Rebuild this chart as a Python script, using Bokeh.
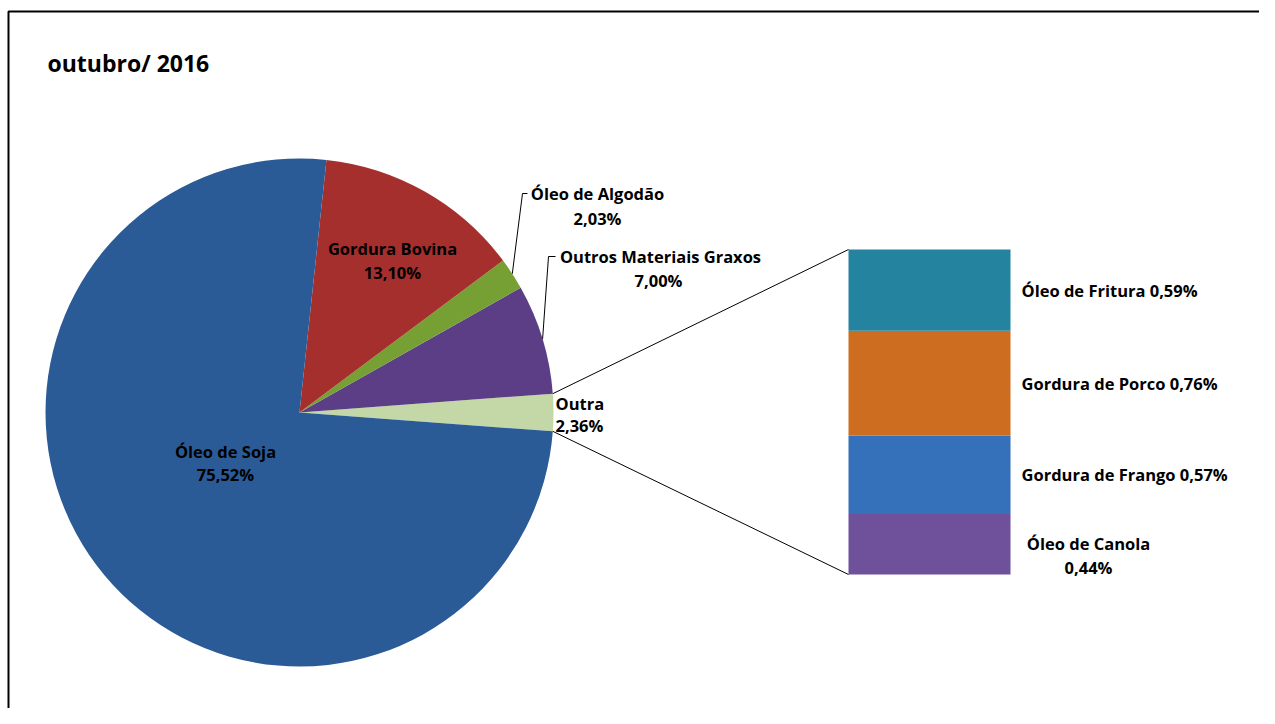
import math
from bokeh.plotting import figure
from bokeh.models import Range1d, ColumnDataSource
from bokeh.core.properties import value
from bokeh.embed import file_html
from bokeh.resources import INLINE

# ---------------- data ----------------
title = "outubro/ 2016"
main_labels = ["Outra", "Outros Materiais Graxos", "Óleo de Algodão", "Gordura Bovina", "Óleo de Soja"]
main_values = [2.36, 7.00, 2.03, 13.10, 75.52]
main_colors = ["#C4D7A6", "#5B3E86", "#76A033", "#A52F2D", "#2B5B97"]

bar_labels = ["Óleo de Canola", "Gordura de Frango", "Gordura de Porco", "Óleo de Fritura"]
bar_values = [0.44, 0.57, 0.76, 0.59]
bar_colors = ["#6E509B", "#3570BB", "#CD6D1F", "#24839E"]

def fmt(v):
    return f"{v:.2f}".replace(".", ",") + "%"

# ---------------- layout ----------------
W, H = 1259, 708
FONT = value("Open Sans")
cx, cy, R = 299, 304, 254
bar_left, bar_right, bar_bottom, bar_top = 848, 1010, 142, 467

p = figure(width=W, height=H, x_range=Range1d(0, W), y_range=Range1d(716 - H, 716),
           output_backend="svg", toolbar_location=None, min_border=0)
p.axis.visible = False
p.grid.visible = False
p.outline_line_color = None
p.background_fill_color = "white"

# chart frame (only the top and left edges fall inside the picture)
p.line(x=[8, 8, W], y=[716 - H, 705, 705], line_color="black", line_width=2)

# ---------------- pie ----------------
total = sum(main_values)
angles = [v / total * 2 * math.pi for v in main_values]
starts, ends = [], []
a = -angles[0] / 2
for ang in angles:
    starts.append(a)
    ends.append(a + ang)
    a += ang
pie_src = ColumnDataSource(dict(start=starts, end=ends, color=main_colors))
p.wedge(x=cx, y=cy, radius=R, start_angle="start", end_angle="end",
        fill_color="color", line_color=None, source=pie_src)

# ---------------- bar ----------------
btotal = sum(bar_values)
scale = (bar_top - bar_bottom) / btotal
bottoms, tops = [], []
acc = bar_bottom
for v in bar_values:
    bottoms.append(acc)
    acc += v * scale
    tops.append(acc)
bar_src = ColumnDataSource(dict(bottom=bottoms, top=tops, color=bar_colors))
p.vbar(x=(bar_left + bar_right) / 2, width=bar_right - bar_left, bottom="bottom", top="top",
       fill_color="color", line_color=None, source=bar_src)

# connector lines from "Outra" slice edges to the bar corners
x_up = cx + R * math.cos(ends[0]); y_up = cy + R * math.sin(ends[0])
x_dn = cx + R * math.cos(starts[0]); y_dn = cy + R * math.sin(starts[0])
p.segment(x0=[x_up, x_dn], y0=[y_up, y_dn], x1=[bar_left, bar_left], y1=[tops[-1], bottoms[0]],
          line_color="black", line_width=1)

# leader lines for outside labels (Óleo de Algodão, Outros Materiais Graxos)
mid = [(s + e) / 2 for s, e in zip(starts, ends)]
lx1 = [cx + R * math.cos(mid[2]), cx + R * math.cos(mid[1])]
ly1 = [cy + R * math.sin(mid[2]), cy + R * math.sin(mid[1])]
p.multi_line(xs=[[lx1[0], 522, 527], [lx1[1], 548, 555]],
             ys=[[ly1[0], 523, 523], [ly1[1], 460, 460]],
             line_color="black", line_width=1)

TS = "16.5px"
def label(x, y, txt, align="center", size=TS):
    p.text(x=[x], y=[y], text=[txt], text_font=FONT, text_font_style="bold",
           text_font_size=size, text_align=align, text_baseline="middle", text_color="black")

# title
label(47, 654, title, align="left", size="23px")

# pie labels
label(392, 468, main_labels[3]); label(392, 444, fmt(main_values[3]))
label(225, 265, main_labels[4]); label(225, 242, fmt(main_values[4]))
label(597, 523, main_labels[2]); label(597, 498, fmt(main_values[2]))
label(660, 460, main_labels[1]); label(658, 436, fmt(main_values[1]))
label(555, 313, main_labels[0], align="left"); label(555, 291, fmt(main_values[0]), align="left")

# bar labels
bmid = [(b + t) / 2 for b, t in zip(bottoms, tops)]
for i in range(1, 4):
    label(1021, bmid[i], f"{bar_labels[i]} {fmt(bar_values[i])}", align="left")
label(1088, bmid[0] + 1, bar_labels[0]); label(1088, bmid[0] - 23, fmt(bar_values[0]))

open("out.html", "w").write(file_html(p, INLINE))
